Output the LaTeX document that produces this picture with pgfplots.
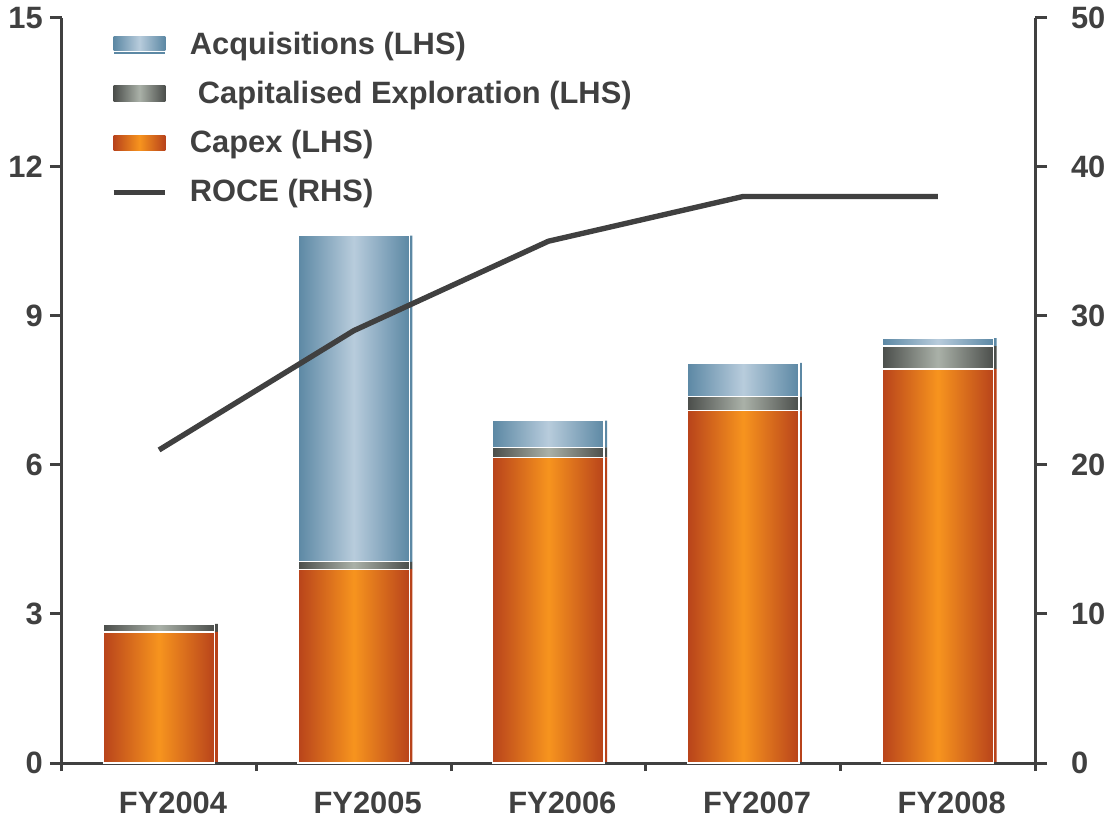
\documentclass[border=0pt]{standalone}
\usepackage{fontspec}
\setmainfont{Liberation Sans}
\usepackage{pgfplots}
\pgfplotsset{compat=1.18}

\definecolor{txt}{RGB}{64,64,64}
\definecolor{orE}{RGB}{184,67,27}
\definecolor{orM}{RGB}{247,148,30}
\definecolor{blE}{RGB}{92,136,164}
\definecolor{blM}{RGB}{184,204,220}
\definecolor{grE}{RGB}{75,78,75}
\definecolor{grM}{RGB}{170,177,168}

% one series is one path, so the shading repeats once per bar
% (bar pitch 97.8pt, bar width 56pt, mapped onto 25bp..75bp)
\newcommand\barshade[3]{%
  \pgfdeclarehorizontalshading{#1}{100bp}{%
    color(0bp)=(#2); color(25bp)=(#2); color(28.13bp)=(#3); color(31.26bp)=(#2);
    color(35.94bp)=(#2); color(39.07bp)=(#3); color(42.20bp)=(#2);
    color(46.87bp)=(#2); color(50.00bp)=(#3); color(53.13bp)=(#2);
    color(57.81bp)=(#2); color(60.94bp)=(#3); color(64.07bp)=(#2);
    color(68.74bp)=(#2); color(71.87bp)=(#3); color(75bp)=(#2); color(100bp)=(#2)}}
\barshade{orshade}{orE}{orM}
\barshade{grshade}{grE}{grM}
% acquisitions: the zero bar of FY2004 is skipped, so four bars only
\pgfdeclarehorizontalshading{blshade}{100bp}{%
    color(0bp)=(blE); color(25bp)=(blE); color(29.01bp)=(blM); color(33.01bp)=(blE);
    color(39.00bp)=(blE); color(43.00bp)=(blM); color(47.01bp)=(blE);
    color(52.99bp)=(blE); color(57.00bp)=(blM); color(61.00bp)=(blE);
    color(66.99bp)=(blE); color(70.99bp)=(blM); color(75bp)=(blE); color(100bp)=(blE)}

\tikzset{
  capex/.style={left color=orE, right color=orE, middle color=orM},
  explo/.style={left color=grE, right color=grE, middle color=grM},
  acq/.style={left color=blE, right color=blE, middle color=blM},
}
\pgfplotsset{
  base/.style={
    scale only axis, width=489pt, height=374.5pt,
    xmin=-0.5, xmax=4.5,
    axis line style={-, draw=txt, line width=1.5pt},
    tick style={draw=txt, line width=1.5pt},
    tick align=outside,
    ticklabel style={font=\fontsize{15.5}{18}\selectfont\bfseries, text=txt},
    /pgf/number format/assume math mode=true,
  },
}

% values
\pgfplotstableread{
x capex explo acq roce
0 2.64 0.16 0.00 21
1 3.90 0.15 6.56 29
2 6.15 0.20 0.54 35
3 7.09 0.28 0.68 38
4 7.93 0.46 0.16 38
}\data

\begin{document}
\begin{tikzpicture}
% shadow bars and category ticks
\begin{axis}[base, ymin=0, ymax=15,
    hide y axis, axis x line*=bottom,
    xtick={-0.5,0.5,...,4.5}, xticklabels={},
    major tick length=4pt,
    ybar stacked, bar width=56pt, bar shift=1.5pt]
  \addplot[fill=orE, draw=none] table[x=x, y=capex] {\data};
  \addplot[fill=grE, draw=none] table[x=x, y=explo] {\data};
  \addplot[fill=blE, draw=none] table[x=x, y=acq] {\data};
\end{axis}

% LHS bars
\begin{axis}[base, name=main, ymin=0, ymax=15,
    axis x line*=bottom, axis y line*=left,
    xtick={0,...,4},
    xticklabels={FY2004,FY2005,FY2006,FY2007,FY2008},
    xtick style={draw=none},
    xticklabel style={yshift=-5pt, xshift=7pt},
    ytick={0,3,...,15},
    major tick length=6pt,
    ybar stacked, bar width=56pt]
  \addplot[shade, shading=orshade, draw=white, line width=0.7pt] table[x=x, y=capex] {\data};
  \addplot[shade, shading=grshade, draw=white, line width=0.7pt] table[x=x, y=explo] {\data};
  \addplot[shade, shading=blshade, draw=white, line width=0.7pt] table[x=x, y=acq] {\data};
\end{axis}

% RHS line and legend
\begin{axis}[base, ymin=0, ymax=50,
    axis x line=none, axis y line*=right,
    ytick={0,10,...,50},
    major tick length=6pt,
    yticklabel style={xshift=8.5pt},
    legend cell align=left,
    legend style={at={(0,1)}, anchor=north west, xshift=24.5pt, yshift=-6pt,
      draw=none, fill=none, inner sep=0pt, row sep=10pt, column sep=10pt,
      nodes={inner sep=1pt},
      font=\fontsize{15.5}{18}\selectfont\bfseries, text=txt}]
  \addlegendimage{legend image code/.code={\path[acq, draw=none] (0pt,-3pt) rectangle (26pt,4pt);
      \fill[blE, draw=none] (0pt,-4.6pt) rectangle (26pt,-3.8pt);}}
  \addlegendentry{Acquisitions (LHS)}
  \addlegendimage{legend image code/.code={\path[explo, draw=none] (0pt,-4pt) rectangle (26pt,4pt);}}
  \addlegendentry{\hspace{4pt}Capitalised Exploration (LHS)}
  \addlegendimage{legend image code/.code={\path[capex, draw=none] (0pt,-4pt) rectangle (26pt,4pt);}}
  \addlegendentry{Capex (LHS)}
  \addplot[draw=txt, line width=2.7pt, no marks,
    legend image code/.code={\draw[draw=txt, line width=2.7pt] (0pt,0pt) -- (26pt,0pt);}]
    table[x=x, y=roce] {\data};
  \addlegendentry{ROCE (RHS)}
\end{axis}

\path ([xshift=-31pt,yshift=-27.5pt]main.south west)
  rectangle ([xshift=36pt,yshift=7.5pt]main.north east);
\end{tikzpicture}
\end{document}
